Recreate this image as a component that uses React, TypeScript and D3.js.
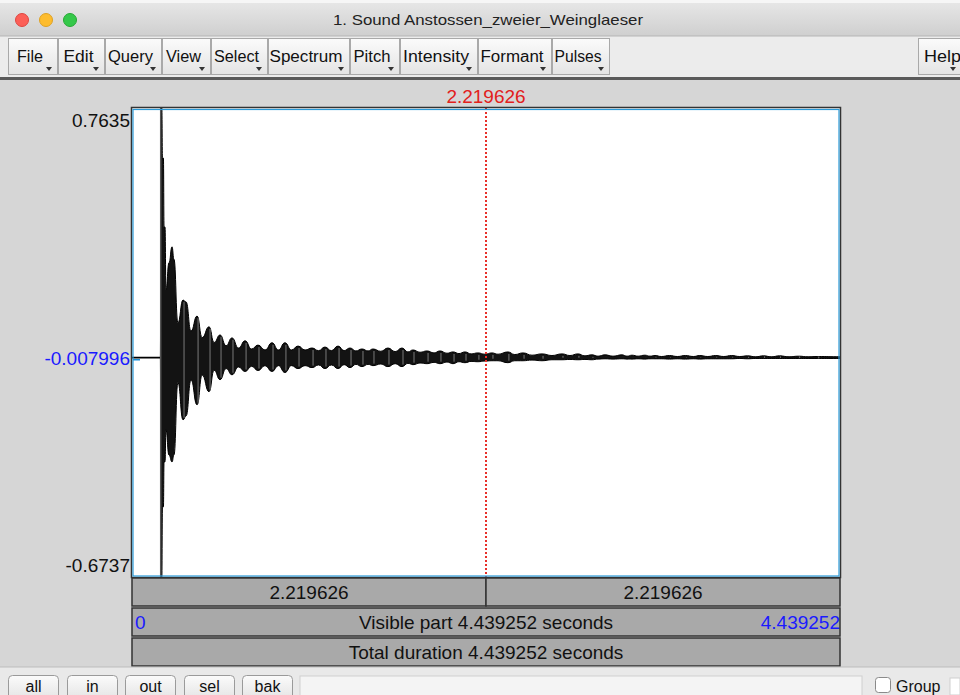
import React from "react";
import * as d3 from "d3";

// Sound editor: waveform envelope (time s, max, min amplitude)
const waveT = [0.178, 0.181, 0.187, 0.191, 0.197, 0.201, 0.207, 0.213, 0.232, 0.251, 0.263, 0.288,
  0.320, 0.339, 0.370, 0.408, 0.440, 0.483, 0.515, 0.552, 0.590, 0.627, 0.668, 0.709, 0.750,
  0.790, 0.834, 0.878, 0.918, 0.959, 1.000, 1.041, 1.085, 1.129, 1.170, 1.210, 1.250, 1.292,
  1.330, 1.367, 1.404, 1.442, 1.480, 1.511, 1.560, 1.605, 1.650, 1.693, 1.730, 1.762, 1.806,
  1.850, 1.894, 1.931, 1.975, 2.013, 2.050, 2.088, 2.126, 2.169, 2.213, 2.257, 2.295, 2.357,
  2.400, 2.452, 2.508, 2.571, 2.633, 2.696, 2.746, 2.796, 2.840, 2.884, 2.922, 2.966, 3.016,
  3.072, 3.104, 3.135, 3.173, 3.216, 3.248, 3.279, 3.320, 3.370, 3.420, 3.470, 3.520, 3.560,
  3.610, 3.660, 3.710, 3.760, 3.810, 3.860, 3.910, 3.960, 4.010, 4.060, 4.120, 4.180, 4.240,
  4.300, 4.439]
const waveMax = [0.000, 0.7635, 0.7635, 0.610, 0.610, 0.399, 0.399, 0.206, 0.289, 0.338, 0.300, 0.105,
  0.175, 0.169, 0.080, 0.126, 0.060, 0.093, 0.045, 0.068, 0.035, 0.059, 0.028, 0.050, 0.025,
  0.037, 0.022, 0.044, 0.022, 0.044, 0.022, 0.034, 0.022, 0.028, 0.020, 0.031, 0.020, 0.034,
  0.020, 0.028, 0.019, 0.025, 0.019, 0.025, 0.018, 0.028, 0.017, 0.028, 0.016, 0.022, 0.015,
  0.019, 0.013, 0.019, 0.012, 0.016, 0.011, 0.016, 0.010, 0.013, 0.009, 0.013, 0.009, 0.016,
  0.008, 0.013, 0.006, 0.010, 0.005, 0.010, 0.005, 0.010, 0.004, 0.007, 0.003, 0.007, 0.003,
  0.007, 0.003, 0.006, 0.003, 0.006, 0.003, 0.005, 0.002, 0.005, 0.002, 0.005, 0.002, 0.005,
  0.002, 0.005, 0.002, 0.005, 0.002, 0.004, 0.001, 0.004, 0.001, 0.004, 0.001, 0.003, 0.001,
  0.002, 0.001]
const waveMin = [-0.003, -0.6737, -0.6737, -0.459, -0.459, -0.321, -0.321, -0.223, -0.300, -0.321, -0.300, -0.078,
  -0.192, -0.180, -0.070, -0.146, -0.055, -0.106, -0.040, -0.069, -0.035, -0.054, -0.030, -0.044, -0.028,
  -0.041, -0.026, -0.044, -0.026, -0.047, -0.026, -0.035, -0.026, -0.032, -0.024, -0.035, -0.024, -0.035,
  -0.023, -0.032, -0.022, -0.029, -0.022, -0.026, -0.021, -0.029, -0.020, -0.029, -0.019, -0.023, -0.018,
  -0.020, -0.016, -0.020, -0.015, -0.020, -0.014, -0.017, -0.013, -0.014, -0.012, -0.011, -0.011, -0.017,
  -0.011, -0.011, -0.009, -0.011, -0.008, -0.008, -0.007, -0.008, -0.007, -0.008, -0.006, -0.005, -0.006,
  -0.005, -0.006, -0.006, -0.005, -0.006, -0.005, -0.005, -0.005, -0.006, -0.005, -0.006, -0.005, -0.006,
  -0.005, -0.005, -0.005, -0.005, -0.004, -0.005, -0.004, -0.004, -0.004, -0.004, -0.004, -0.004, -0.004,
  -0.004, -0.004]

const totalDur = 4.439252
const cursorT = 2.219626
const yTop = 0.7635
const yBottom = -0.6737
const yMidLabel = -0.007996
const baseAmp = -0.0015

const menus = ["File", "Edit", "Query", "View", "Select", "Spectrum", "Pitch", "Intensity", "Formant", "Pulses"]
const menuEdges = [8, 58, 105, 162, 211, 268, 350, 400, 478, 552, 610]
const menuTextW = [26, 30, 45, 35, 45, 73, 37, 66, 63, 47]
const bottomBtns = ["all", "in", "out", "sel", "bak"]
const bottomBtnX = [8, 67, 125, 184, 242]

const FONT = "'Liberation Sans', Arial, sans-serif"

export default function App() {
  const left = 132, right = 840, top = 108, bottom = 577

  const x = d3.scaleLinear().domain([0, totalDur]).range([left, right])
  const y = d3.scaleLinear().domain([yBottom, yTop]).range([bottom, top])

  const pts = waveT.map((t, i) => ({ t, hi: waveMax[i], lo: waveMin[i] }))
  const area = d3.area<any>().x(d => x(d.t)).y0(d => y(d.lo)).y1(d => y(d.hi)).curve(d3.curveBumpX)

  // ridges where the envelope has a local max
  const ridges = pts.filter((d, i) => i > 0 && i < pts.length - 1 && d.hi > pts[i - 1].hi && d.hi > pts[i + 1].hi && d.t > 0.3)

  const xc = x(cursorT)

  return (
    <svg width={960} height={695} style={{ position: "absolute", left: 0, top: 0, fontFamily: FONT }}>
      <defs>
        <linearGradient id="tb" x1="0" y1="0" x2="0" y2="1">
          <stop offset="0" stopColor="#e8e8e8" />
          <stop offset="1" stopColor="#cfcfcf" />
        </linearGradient>
        <linearGradient id="btn" x1="0" y1="0" x2="0" y2="1">
          <stop offset="0" stopColor="#fbfbfb" />
          <stop offset="1" stopColor="#e4e4e4" />
        </linearGradient>
      </defs>
      <rect x={0} y={0} width={960} height={695} fill="#d6d6d6" />

      {/* title bar */}
      <rect x={0} y={0} width={960} height={36} fill="url(#tb)" />
      <rect x={0} y={0} width={960} height={3} fill="#f6f6f6" />
      <circle cx={22} cy={20} r={6.5} fill="#fc5f57" stroke="#de4640" />
      <circle cx={46} cy={20} r={6.5} fill="#fdbc2e" stroke="#dea123" />
      <circle cx={70} cy={20} r={6.5} fill="#35c84a" stroke="#26a934" />
      <text x={488} y={25} fontSize={15} textAnchor="middle" fill="#222" textLength={310} lengthAdjust="spacingAndGlyphs">
        1. Sound Anstossen_zweier_Weinglaeser
      </text>

      {/* menu bar */}
      <rect x={0} y={36} width={960} height={42} fill="#ececec" />
      <line x1={0} y1={36} x2={960} y2={36} stroke="#b5b5b5" />
      {menus.map((m, i) => {
        const x0 = menuEdges[i], x1 = menuEdges[i + 1]
        return (
          <g key={m}>
            <rect x={x0 + 0.5} y={38.5} width={x1 - x0 - 1} height={36} fill="url(#btn)" stroke="#a9a9a9" />
            <text x={(x0 + x1) / 2 - 3} y={62} fontSize={16} textAnchor="middle" fill="#111" textLength={menuTextW[i]} lengthAdjust="spacingAndGlyphs">{m}</text>
            <path d={`M${x1 - 12},${67} l6,0 l-3,4 z`} fill="#333" />
          </g>
        )
      })}
      <rect x={918.5} y={38.5} width={45} height={36} fill="url(#btn)" stroke="#a9a9a9" />
      <text x={924} y={62} fontSize={16} fill="#111" textLength={37} lengthAdjust="spacingAndGlyphs">Help</text>
      <path d={`M${950},${67} l6,0 l-3,4 z`} fill="#333" />
      <rect x={0} y={77} width={960} height={3} fill="#5a5a5a" />

      {/* cursor time label */}
      <text x={xc} y={103} fontSize={19} textAnchor="middle" fill="#e2201c">{cursorT.toFixed(6)}</text>

      {/* plot area */}
      <rect x={left} y={top} width={right - left} height={bottom - top} fill="#fff" />
      <line x1={x(0)} y1={y(baseAmp)} x2={x(totalDur)} y2={y(baseAmp)} stroke="#000" strokeWidth={1.6} />
      <path d={area(pts) || ""} fill="#131313" stroke="#000" strokeWidth={1} />
      <line x1={x(0.180)} y1={top} x2={x(0.180)} y2={bottom} stroke="#555" strokeWidth={1.5} />
      {ridges.map((d, i) => (
        <line key={i} x1={x(d.t) + 1} x2={x(d.t) + 1} y1={y(d.hi) + 2} y2={y(d.lo) - 2} stroke="#7a7a7a" strokeWidth={1} />
      ))}
      <line x1={xc} y1={top} x2={xc} y2={bottom} stroke="#e8302a" strokeWidth={2} strokeDasharray="2,2" />
      <line x1={left + 1} y1={y(yMidLabel)} x2={left + 8} y2={y(yMidLabel)} stroke="#1e90d8" strokeWidth={1.5} />
      <rect x={left - 0.5} y={top - 0.5} width={right - left + 1} height={bottom - top + 1} fill="none" stroke="#333" strokeWidth={1.5} />
      <rect x={left + 1} y={top + 1.5} width={right - left - 2} height={bottom - top - 2.5} fill="none" stroke="#2a9ad8" strokeWidth={1.2} />

      {/* amplitude labels */}
      <text x={left - 2} y={y(yTop) + 19} fontSize={19} textAnchor="end" fill="#111">{yTop}</text>
      <text x={left - 2} y={y(yMidLabel) + 5} fontSize={19} textAnchor="end" fill="#1a1aff">{yMidLabel}</text>
      <text x={left - 2} y={y(yBottom) - 5} fontSize={19} textAnchor="end" fill="#111">{yBottom}</text>

      {/* bottom time bars */}
      <g stroke="#333" strokeWidth={1.5} fill="#a9a9a9">
        <rect x={left} y={578} width={xc - left} height={28} />
        <rect x={xc} y={578} width={right - xc} height={28} />
        <rect x={left} y={608} width={right - left} height={28} />
        <rect x={left} y={638} width={right - left} height={28} />
      </g>
      <text x={(left + xc) / 2} y={599} fontSize={19} textAnchor="middle" fill="#111">{cursorT.toFixed(6)}</text>
      <text x={(xc + right) / 2} y={599} fontSize={19} textAnchor="middle" fill="#111">{cursorT.toFixed(6)}</text>
      <text x={left + 3} y={629} fontSize={19} fill="#1a1aff">0</text>
      <text x={(left + right) / 2} y={629} fontSize={19} textAnchor="middle" fill="#111">Visible part {totalDur.toFixed(6)} seconds</text>
      <text x={right} y={629} fontSize={19} textAnchor="end" fill="#1a1aff">{totalDur.toFixed(6)}</text>
      <text x={(left + right) / 2} y={659} fontSize={19} textAnchor="middle" fill="#111">Total duration {totalDur.toFixed(6)} seconds</text>

      {/* bottom toolbar */}
      <rect x={0} y={667} width={960} height={28} fill="#e9e9e9" />
      <line x1={0} y1={667} x2={960} y2={667} stroke="#bdbdbd" />
      {bottomBtns.map((b, i) => (
        <g key={b}>
          <rect x={bottomBtnX[i] + 0.5} y={675.5} width={50} height={24} rx={4} fill="url(#btn)" stroke="#9a9a9a" />
          <text x={bottomBtnX[i] + 25.5} y={692} fontSize={16} textAnchor="middle" fill="#111">{b}</text>
        </g>
      ))}
      <rect x={300} y={676} width={562} height={20} fill="#f4f4f4" stroke="#d0d0d0" />
      <rect x={875.5} y={677.5} width={15} height={15} rx={3} fill="#fff" stroke="#8a8a8a" />
      <text x={896} y={692} fontSize={16} fill="#111">Group</text>
      <rect x={950} y={678} width={10} height={17} fill="#fff" stroke="#cfcfcf" />
    </svg>
  )
}
